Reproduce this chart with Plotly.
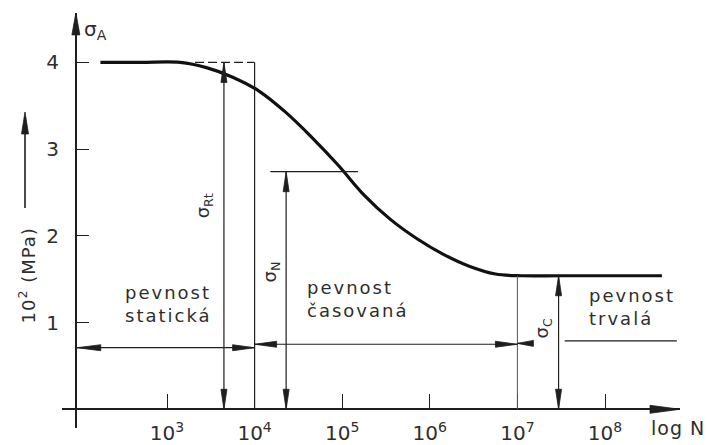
import plotly.graph_objects as go

# Wöhler (S–N) curve: stress amplitude (×10² MPa) against log N
log_n = [2.24, 2.70, 3.15, 3.45, 3.75, 4.05, 4.35, 4.65, 4.95, 5.25,
         5.55, 5.85, 6.15, 6.45, 6.75, 7.05, 7.50, 8.65]
sigma_a = [4.00, 4.00, 4.00, 3.94, 3.83, 3.67, 3.43, 3.14, 2.82, 2.47,
           2.19, 1.97, 1.79, 1.65, 1.56, 1.54, 1.54, 1.54]

x_tick_vals = [3, 4, 5, 6, 7, 8]
x_tick_text = ["10<sup>3</sup>", "10<sup>4</sup>", "10<sup>5</sup>",
               "10<sup>6</sup>", "10<sup>7</sup>", "10<sup>8</sup>"]
y_tick_vals = [1, 2, 3, 4]
y_tick_text = ["1", "2", "3", "4"]

# characteristic strengths and where they are dimensioned
sigma_rt = 4.00            # static strength σRt
log_n_rt = 3.65
log_n_static_end = 4.00    # end of the static range
sigma_n = 2.74             # finite-life fatigue strength σN
log_n_sigma_n = 4.36
sigma_n_mark = [4.18, 5.18]
sigma_c = 1.54             # endurance limit σC
log_n_endurance = 7.00
log_n_sigma_c = 7.47

# ---------------------------------------------------------------- layout
W, H = 707, 445
INK = "#1e1e1e"
TXT = "#2e2e2e"
FONT = "DejaVu Sans"

X_DOMAIN = [62 / W, 680 / W]
X_RANGE = [1.8014, 8.8562]
Y_DOMAIN = [(H - 432) / H, (H - 13) / H]
Y_RANGE = [-0.2171, 4.5714]
LOG_N_AXIS = 1.96          # where the stress axis stands
AXIS_PX = 167 + (LOG_N_AXIS - 3) * 87.6

fig = go.Figure()

fig.add_trace(go.Scatter(
    x=log_n, y=sigma_a, mode="lines",
    line=dict(color="#111111", width=3.2, shape="spline", smoothing=1.0),
    hoverinfo="skip", showlegend=False,
))

shapes = []
annotations = []


def seg(x0, y0, x1, y1, width=1.2, dash=None, color=INK, xref="x", yref="y"):
    line = dict(color=color, width=width)
    if dash:
        line["dash"] = dash
    shapes.append(dict(type="line", xref=xref, yref=yref,
                       x0=x0, y0=y0, x1=x1, y1=y1, line=line, layer="above"))


def head(x, y, direction, length=20, half=3, xref="x", yref="y"):
    pts = {
        "up": [(0, 0), (-half, -length), (half, -length)],
        "down": [(0, 0), (-half, length), (half, length)],
        "left": [(0, 0), (length, -half), (length, half)],
        "right": [(0, 0), (-length, -half), (-length, half)],
    }[direction]
    path = "M" + " L".join(f"{a},{b}" for a, b in pts) + " Z"
    shapes.append(dict(type="path", xref=xref, yref=yref,
                       xsizemode="pixel", ysizemode="pixel",
                       xanchor=x, yanchor=y, path=path,
                       fillcolor=INK, line=dict(color=INK, width=0.8),
                       layer="above"))


def text(x, y, s, size=18, angle=0, xanchor="center", yanchor="middle",
         xref="x", yref="y", align="left", spacing=0):
    if spacing:
        s = f'<span style="letter-spacing:{spacing}px">{s}</span>'
    annotations.append(dict(
        x=x, y=y, xref=xref, yref=yref, showarrow=False, text=s,
        textangle=angle, xanchor=xanchor, yanchor=yanchor, align=align,
        font=dict(family=FONT, size=size, color=TXT),
    ))


# axis arrowheads
head(LOG_N_AXIS, Y_RANGE[1], "up", length=22, half=4)
head(X_RANGE[1], 0, "right", length=30, half=4)

# static strength σRt and the end of the static range
seg(log_n_rt, sigma_rt, log_n_rt, 0)
head(log_n_rt, sigma_rt, "up")
head(log_n_rt, 0, "down")
seg(3.32, sigma_rt, log_n_static_end, sigma_rt, dash="9px,4px")
seg(log_n_static_end, sigma_rt, log_n_static_end, 0)

# finite-life strength σN
seg(sigma_n_mark[0], sigma_n, sigma_n_mark[1], sigma_n)
seg(log_n_sigma_n, sigma_n, log_n_sigma_n, 0)
head(log_n_sigma_n, sigma_n, "up")
head(log_n_sigma_n, 0, "down")

# endurance limit σC
seg(log_n_endurance, sigma_c, log_n_endurance, 0, width=1.0, color="#555555")
seg(log_n_sigma_c, sigma_c, log_n_sigma_c, 0)
head(log_n_sigma_c, sigma_c, "up")
head(log_n_sigma_c, 0, "down")

# range dimension lines
dim_a, dim_b, dim_c = 0.71, 0.75, 0.79
seg(LOG_N_AXIS + 0.01, dim_a, log_n_static_end, dim_a)
head(LOG_N_AXIS + 0.01, dim_a, "left", length=24)
head(log_n_static_end, dim_a, "right", length=22)
seg(log_n_static_end, dim_b, log_n_endurance, dim_b)
head(log_n_static_end, dim_b, "left", length=22)
head(log_n_endurance, dim_b, "right", length=22)
seg(log_n_endurance, dim_b + 0.01, 7.17, dim_b + 0.01)
head(log_n_endurance, dim_b + 0.01, "left", length=16)
seg(7.54, dim_c, 8.82, dim_c)

# range names
text(2.50, 1.22, "pevnost<br>statická", xanchor="left", spacing=2)
text(4.575, 1.27, "pevnost<br>časovaná", xanchor="left", spacing=2)
text(7.795, 1.18, "pevnost<br>trvalá", xanchor="left", spacing=2)

# strength symbols
text(3.42, 2.35, "σ<sub>Rt</sub>", size=18, angle=-90)
text(4.19, 1.58, "σ<sub>N</sub>", size=18, angle=-90)
text(7.29, 0.93, "σ<sub>C</sub>", size=18, angle=-90)

# axis titles
text(82 / W, 1 - 30 / H, "σ<sub>A</sub>", size=20, xanchor="left",
     xref="paper", yref="paper")
text(678 / W, 1 - 432 / H, "log N", size=19, xref="paper", yref="paper",
     spacing=1)
text(27 / W, 1 - 278 / H, "10<sup>2</sup> (MPa)", size=18, angle=-90,
     xref="paper", yref="paper", spacing=1)
seg(25 / W, 1 - 210 / H, 25 / W, 1 - 118 / H, width=1.6,
    xref="paper", yref="paper")
head(25 / W, 1 - 113 / H, "up", length=22, half=3.5,
     xref="paper", yref="paper")

tick_font = dict(family=FONT, size=20, color=TXT)
fig.update_layout(
    width=W, height=H,
    margin=dict(l=0, r=0, t=0, b=0),
    paper_bgcolor="white", plot_bgcolor="white",
    showlegend=False,
    shapes=shapes, annotations=annotations,
    xaxis=dict(
        domain=X_DOMAIN, range=X_RANGE, anchor="free",
        position=(H - 413) / H,
        showline=True, linecolor=INK, linewidth=1.8,
        ticks="inside", ticklen=14, tickwidth=1.4, tickcolor=INK,
        tickvals=x_tick_vals, ticktext=x_tick_text, tickfont=tick_font,
        ticklabelstandoff=6,
        showgrid=False, zeroline=False, fixedrange=True,
    ),
    yaxis=dict(
        domain=Y_DOMAIN, range=Y_RANGE, anchor="free",
        position=AXIS_PX / W,
        showline=True, linecolor=INK, linewidth=1.8,
        ticks="inside", ticklen=12, tickwidth=1.4, tickcolor=INK,
        tickvals=y_tick_vals, ticktext=y_tick_text, tickfont=tick_font,
        ticklabelstandoff=12,
        showgrid=False, zeroline=False, fixedrange=True,
    ),
)

fig.write_html("out.html")
